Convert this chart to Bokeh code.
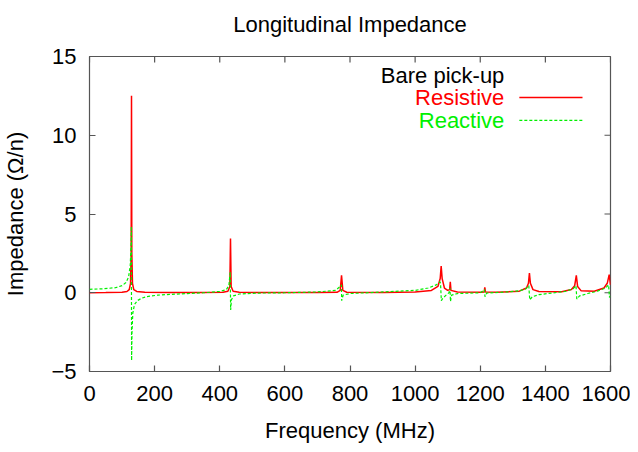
from bokeh.plotting import figure
from bokeh.models import Range1d, FixedTicker, Label, Arrow
from bokeh.embed import file_html
from bokeh.resources import INLINE

# ---- data ----
res_freq = [0, 50, 100, 115, 122, 126, 128, 129, 130, 132, 136, 145, 170, 250, 350,
            410, 425, 431, 433, 435, 441, 460, 550, 700, 760, 770, 774, 778, 790,
            900, 1000, 1050, 1070, 1077, 1080, 1083, 1090, 1100, 1106, 1108, 1110,
            1130, 1200, 1212, 1214, 1216, 1250, 1320, 1342, 1348, 1351, 1354, 1362,
            1380, 1450, 1480, 1490, 1495, 1499, 1510, 1550, 1580, 1590, 1596, 1600]
res_vals = [0.0, 0.01, 0.03, 0.08, 0.2, 0.6, 2.5, 12.5, 2.5, 0.6, 0.2, 0.08, 0.03, 0.01, 0.01,
            0.03, 0.1, 0.4, 3.45, 0.4, 0.1, 0.03, 0.01, 0.01, 0.03, 0.15, 1.1, 0.15, 0.03,
            0.02, 0.05, 0.15, 0.4, 0.9, 1.7, 0.9, 0.3, 0.15, 0.2, 0.7, 0.15,
            0.05, 0.03, 0.05, 0.35, 0.05, 0.03, 0.1, 0.3, 0.6, 1.25, 0.6, 0.2,
            0.08, 0.06, 0.2, 0.45, 1.1, 0.4, 0.12, 0.1, 0.3, 0.6, 1.15, 0.5]

rea_freq = [0, 40, 80, 100, 112, 120, 125, 127.5, 128.5, 129.3, 130.5, 133, 138, 147,
            160, 175, 210, 250, 300, 350, 400, 420, 428, 432, 433.5, 436, 442, 460,
            520, 600, 700, 755, 770, 773.5, 774.5, 779, 800, 900, 1000, 1040, 1065,
            1076, 1078, 1080.5, 1085, 1095, 1104, 1107, 1108.5, 1112, 1130, 1200,
            1213, 1214.5, 1220, 1280, 1320, 1340, 1349, 1352, 1360, 1380, 1420,
            1460, 1485, 1494, 1496.5, 1505, 1530, 1560, 1585, 1594, 1597, 1600]
rea_vals = [0.22, 0.25, 0.32, 0.45, 0.65, 1.0, 1.7, 3.0, 4.2, -4.3, -2.5, -1.3, -0.75, -0.5,
            -0.35, -0.25, -0.15, -0.1, -0.05, 0.0, 0.08, 0.2, 0.45, 1.3, -1.1, -0.45, -0.2, -0.08,
            -0.02, 0.0, 0.05, 0.15, 0.4, 0.5, -0.5, -0.15, -0.05, 0.05, 0.15, 0.3, 0.5,
            0.7, 0.6, -0.5, -0.35, -0.15, 0.0, 0.3, -0.55, -0.15, -0.05, 0.0,
            0.2, -0.25, -0.02, 0.05, 0.12, 0.25, 0.45, -0.45, -0.25, -0.12, -0.02,
            0.08, 0.25, 0.45, -0.4, -0.2, -0.05, 0.1, 0.3, 0.5, -0.3, -0.1]

x_ticks = [0, 200, 400, 600, 800, 1000, 1200, 1400, 1600]
y_ticks = [-5, 0, 5, 10, 15]

title_text = "Longitudinal Impedance"
x_label = "Frequency (MHz)"
y_label = "Impedance (\u03a9/n)"
legend_title = "Bare pick-up"
res_name = "Resistive"
rea_name = "Reactive"

FONT = "Liberation Sans"
FS = "22px"
BORDER = "#555555"
RED = "#ff0000"
GREEN = "#00f000"

X0, X1 = 0, 1600
Y0, Y1 = -5, 15
FW, FH = 521, 315
TICK = 6

p = figure(frame_width=FW, frame_height=FH, output_backend="svg", toolbar_location=None,
           x_range=Range1d(X0, X1), y_range=Range1d(Y0, Y1),
           title=title_text, min_border_left=81, min_border_right=20,
           min_border_top=48, min_border_bottom=73)

p.title.text_font = FONT
p.title.text_font_size = FS
p.title.text_font_style = "normal"
p.title.text_color = "black"
p.title.align = "center"
p.title.vertical_align = "top"
p.title.offset = 0
p.title.padding = dict(left=0, right=0, top=0, bottom=7)
p.title.standoff = 22

p.xgrid.visible = False
p.ygrid.visible = False
p.outline_line_color = BORDER
p.outline_line_width = 1.2
p.background_fill_color = "white"
p.border_fill_color = "white"

for ax, ticks in ((p.xaxis[0], x_ticks), (p.yaxis[0], y_ticks)):
    ax.ticker = FixedTicker(ticks=ticks)
    ax.axis_line_color = None
    ax.major_tick_in = TICK
    ax.major_tick_out = 0
    ax.major_tick_line_color = BORDER
    ax.major_tick_line_width = 1.2
    ax.minor_tick_line_color = None
    ax.major_label_text_font = FONT
    ax.major_label_text_font_size = FS
    ax.major_label_text_color = "black"
    ax.axis_label_text_font = FONT
    ax.axis_label_text_font_size = FS
    ax.axis_label_text_font_style = "normal"
    ax.axis_label_text_color = "black"

p.xaxis[0].axis_label = x_label
p.yaxis[0].axis_label = y_label
p.xaxis[0].major_label_standoff = 14
p.xaxis[0].axis_label_standoff = 14
p.yaxis[0].major_label_standoff = 13
p.yaxis[0].axis_label_standoff = 20
p.yaxis[0].major_label_orientation = "horizontal"

# mirrored inward ticks on top and right borders (gnuplot style)
tlx = TICK * (X1 - X0) / FW
tly = TICK * (Y1 - Y0) / FH
p.segment(x0=x_ticks, y0=[Y1] * len(x_ticks), x1=x_ticks, y1=[Y1 - tly] * len(x_ticks),
          line_color=BORDER, line_width=1.2)
p.segment(x0=[X1] * len(y_ticks), y0=y_ticks, x1=[X1 - tlx] * len(y_ticks), y1=y_ticks,
          line_color=BORDER, line_width=1.2)

p.line(res_freq, res_vals, line_color=RED, line_width=1.5)
p.line(rea_freq, rea_vals, line_color=GREEN, line_width=1.2, line_dash="3 2")

# legend (gnuplot style: right-aligned text, sample to the right)
lx_text = 1274
lx0, lx1 = 1320, 1514
ly = [13.8, 12.4, 10.94]
for txt, yy, col in [(legend_title, ly[0], "black"), (res_name, ly[1], RED), (rea_name, ly[2], GREEN)]:
    p.add_layout(Label(x=lx_text, y=yy, text=txt, text_align="right", text_baseline="middle",
                       text_font=FONT, text_font_size=FS, text_color=col))
p.add_layout(Arrow(end=None, x_start=lx0, x_end=lx1, y_start=ly[1], y_end=ly[1],
                   line_color=RED, line_width=1.5))
p.add_layout(Arrow(end=None, x_start=lx0, x_end=lx1, y_start=ly[2], y_end=ly[2],
                   line_color=GREEN, line_width=1.2, line_dash="3 2"))

open("out.html", "w").write(file_html(p, INLINE))
